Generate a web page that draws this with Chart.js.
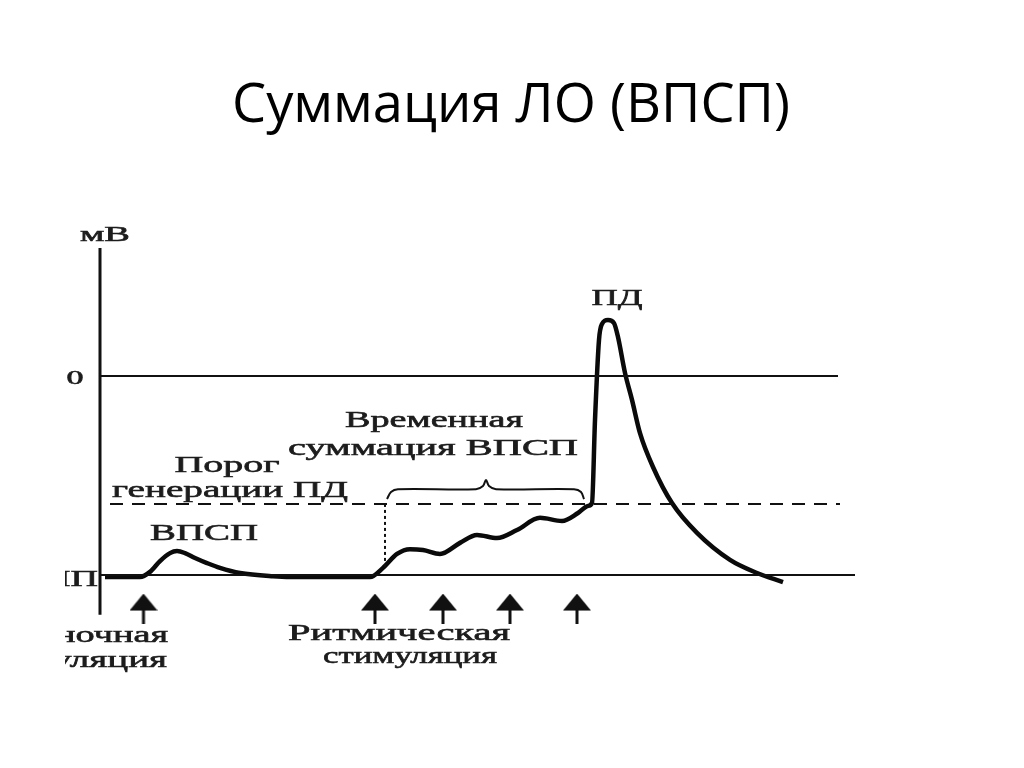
<!DOCTYPE html>
<html>
<head>
<meta charset="utf-8">
<script src="https://cdn.jsdelivr.net/npm/chart.js@4"></script>
<style>
  body { margin: 0; background: #fff; }
  #wrap { width: 1024px; height: 768px; }
</style>
</head>
<body>
<div id="wrap"><canvas id="chart" width="1024" height="768"></canvas></div>
<script>
// время (усл. ед.) и мембранный потенциал (мВ)
const curveTime = [1, 8, 10, 12, 14, 15.4, 17, 19, 21.4, 24, 28, 34.6, 40, 54,
  56.6, 59.4, 62, 64.6, 68, 72, 75.4, 79.4, 83.4, 88, 92.4, 95.6, 97.6, 98.4,
  99, 99.8, 100.4, 101.6, 102.8, 103.6, 105, 106.4, 108, 110.6, 114.4, 119.4, 126, 131.4, 136.6];
const curveMv = [-70.7, -70.7, -68.9, -65.1, -62.3, -61.6, -62.3, -64.0, -65.8, -67.5, -69.3, -70.4, -70.7, -70.7,
  -67.5, -62.6, -60.9, -61.2, -62.6, -58.7, -55.9, -57.0, -54.2, -49.9, -51.0, -48.2, -45.7, -44.7,
  -15.5, 12.7, 18.3, 19.7, 18.6, 13.7, 1.1, -8.4, -20.1, -32.0, -44.7, -55.2, -64.7, -69.3, -72.5];

const restMv = -70;        // ПП
const thresholdMv = -45;   // порог генерации ПД
const zeroMv = 0;

const axisTime = [0, 0];
const axisMv = [45, -84];
const zeroLineTime = [0, 147.6];
const restLineTime = [0, 151];
const thresholdLineTime = [2, 148];
const markerTime = [57, 57];          // начало ритмической стимуляции
const markerMv = [thresholdMv, -68];

// стимулы (стрелки)
const stimulusTime = [8.7, 55, 68.6, 82, 95.4];
const stimulusMv = -81.8;

// фигурная скобка над временной суммацией
const braceTime = [57.4, 58.2, 59.6, 75.2, 76.6, 77.2, 77.8, 79.2, 94.8, 96.2, 96.8];
const braceMv = [-43.3, -40.8, -39.8, -39.8, -38.7, -36.6, -38.7, -39.8, -39.8, -40.8, -43.3];

// подписи: текст, положение в координатах графика
const labels = [
  { text: 'мВ', t: 1, v: 47.5, w: 50, size: 21, align: 'center' },
  { text: '0', t: -5, v: -2.8, w: 17, size: 18, align: 'center' },
  { text: 'ПП', t: -0.4, v: -73.9, w: 55, size: 24, align: 'right' },
  { text: 'Порог', t: 25.4, v: -33.8, w: 105, size: 24, align: 'center' },
  { text: 'генерации ПД', t: 26, v: -42.6, w: 236, size: 24, align: 'center' },
  { text: 'ВПСП', t: 20.8, v: -57.7, w: 108, size: 24, align: 'center' },
  { text: 'Временная', t: 66.8, v: -17.9, w: 178, size: 24, align: 'center' },
  { text: 'суммация ВПСП', t: 66.6, v: -27.8, w: 290, size: 24, align: 'center' },
  { text: 'ПД', t: 103.4, v: 25.0, w: 51, size: 24, align: 'center' },
  { text: 'Одиночная', t: 13.6, v: -93.6, w: 180, size: 24, align: 'right' },
  { text: 'стимуляция', t: 13.4, v: -102.4, w: 195, size: 24, align: 'right' },
  { text: 'Ритмическая', t: 59.8, v: -92.9, w: 222, size: 24, align: 'center' },
  { text: 'стимуляция', t: 62, v: -101, w: 174, size: 24, align: 'center' }
];

function pts(xs, ys) {
  return xs.map((x, i) => ({ x: x, y: Array.isArray(ys) ? ys[i] : ys }));
}

// стрелка для точек стимулов
function arrowImage() {
  const c = document.createElement('canvas');
  c.width = 28; c.height = 30;
  const g = c.getContext('2d');
  g.fillStyle = '#111';
  g.beginPath();
  g.moveTo(14, 0); g.lineTo(28, 17); g.lineTo(0, 17); g.closePath();
  g.fill();
  g.fillRect(12.5, 15, 3, 15);
  return c;
}

const textPlugin = {
  id: 'diagramText',
  afterDatasetsDraw(chart) {
    const ctx = chart.ctx;
    const xs = chart.scales.x, ys = chart.scales.y;
    ctx.save();
    ctx.fillStyle = '#000';
    ctx.textBaseline = 'alphabetic';
    // заголовок
    ctx.font = '54px "Open Sans"';
    let title = 'Суммация ЛО (ВПСП)';
    let k = 558 / ctx.measureText(title).width;
    ctx.save();
    ctx.translate(511, 122);
    ctx.scale(k, 1);
    ctx.textAlign = 'center';
    ctx.fillText(title, 0, 0);
    ctx.restore();

    // подписи схемы (левый край обрезан, как на рисунке)
    ctx.beginPath();
    ctx.rect(65, 0, chart.width, chart.height);
    ctx.clip();
    ctx.fillStyle = '#1c1c1c';
    ctx.strokeStyle = '#1c1c1c';
    ctx.lineWidth = 0.6;
    labels.forEach(l => {
      ctx.font = l.size + 'px "Liberation Serif"';
      const sx = l.w / ctx.measureText(l.text).width;
      ctx.save();
      ctx.translate(xs.getPixelForValue(l.t), ys.getPixelForValue(l.v));
      ctx.scale(sx, 1);
      ctx.textAlign = l.align;
      ctx.fillText(l.text, 0, 0);
      ctx.strokeText(l.text, 0, 0);
      ctx.restore();
    });
    ctx.restore();
  }
};

const line = (data, width, extra) => Object.assign({
  data: data,
  showLine: true,
  borderColor: '#111',
  borderWidth: width,
  pointRadius: 0,
  fill: false
}, extra || {});

const chart = new Chart(document.getElementById('chart'), {
  type: 'scatter',
  data: {
    datasets: [
      line(pts(axisTime, axisMv), 3),
      line(pts(zeroLineTime, zeroMv), 2),
      line(pts(restLineTime, restMv), 2),
      line(pts(thresholdLineTime, thresholdMv), 2, { borderDash: [13, 9] }),
      line(pts(markerTime, markerMv), 2, { borderDash: [3, 3] }),
      line(pts(braceTime, braceMv), 2, { tension: 0.35 }),
      line(pts(curveTime, curveMv), 4.5, { cubicInterpolationMode: 'monotone', borderColor: '#0a0a0a' }),
      {
        data: pts(stimulusTime, stimulusMv),
        showLine: false,
        pointStyle: arrowImage(),
        pointRadius: 14
      }
    ]
  },
  options: {
    responsive: false,
    animation: false,
    layout: { padding: 0, autoPadding: false },
    plugins: {
      legend: { display: false },
      tooltip: { enabled: false }
    },
    scales: {
      // 1 ед. времени = 5 px, 0 мВ на 376 px, 70 мВ = 199 px
      x: { type: 'linear', display: false, min: -20, max: 184.8 },
      y: { type: 'linear', display: false, min: -137.89, max: 132.26 }
    }
  },
  plugins: [textPlugin]
});
</script>
</body>
</html>
